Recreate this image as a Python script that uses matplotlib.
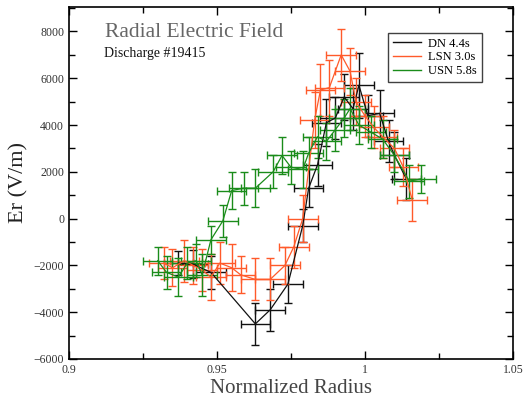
"""
Radial electric field profiles for discharge #19415 in three magnetic
configurations (DN, LSN, USN), plotted against normalized radius.
"""

import matplotlib
matplotlib.use("Agg")
import matplotlib.pyplot as plt
import matplotlib.ticker as ticker
from matplotlib.lines import Line2D


# ── profile data ──────────────────────────────────────────────────────────────

# DN 4.4s
x_dn = [0.937, 0.942, 0.948, 0.963, 0.968, 0.974, 0.979, 0.981, 0.984, 0.987,
        0.990, 0.993, 0.996, 0.998, 1.001, 1.005, 1.008, 1.010, 1.014]
y_dn = [-1900, -1950, -2300, -4500, -3900, -2800, -300, 1300, 2300, 4100,
        4300, 5200, 4700, 5700, 4400, 4500, 3300, 2700, 1700]
yerr_dn = [500, 600, 700, 900, 900, 800, 700, 800, 900, 1000,
           900, 1000, 900, 1400, 900, 1000, 900, 1000, 900]

# LSN 3.0s
x_lsn = [0.932, 0.935, 0.939, 0.942, 0.945, 0.948, 0.951, 0.955, 0.958, 0.963,
         0.968, 0.973, 0.976, 0.979, 0.983, 0.985, 0.988, 0.992, 0.995, 0.997,
         1.000, 1.003, 1.006, 1.010, 1.013, 1.016]
y_lsn = [-1900, -2100, -1800, -2000, -2200, -2500, -1900, -2100, -2400, -2600,
         -2600, -2000, -1200, 0, 4200, 5500, 5600, 7000, 6300, 5000,
         4400, 3900, 3500, 3000, 2200, 800]
yerr_lsn = [700, 800, 900, 800, 900, 1000, 900, 1000, 800, 900,
            900, 800, 900, 1000, 1200, 1100, 1200, 1100, 1000, 1000,
            900, 900, 900, 800, 800, 900]

# USN 5.8s
x_usn = [0.930, 0.933, 0.937, 0.940, 0.943, 0.945, 0.948, 0.952, 0.955, 0.959,
         0.963, 0.969, 0.972, 0.975, 0.979, 0.981, 0.984, 0.987, 0.990, 0.993,
         0.995, 0.998, 1.002, 1.006, 1.010, 1.015, 1.019]
y_usn = [-1800, -2300, -2500, -1900, -1800, -2400, -900, -100, 1200, 1300,
         1300, 2000, 2700, 2200, 2100, 2800, 3500, 3300, 3800, 4300,
         4700, 4000, 3700, 3400, 2700, 1600, 1700]
yerr_usn = [600, 700, 800, 700, 700, 900, 600, 700, 800, 700,
            800, 700, 800, 700, 800, 700, 900, 800, 900, 800,
            900, 800, 700, 800, 700, 700, 600]

XERR = 0.005

SERIES = [
    ("DN 4.4s", x_dn, y_dn, yerr_dn, "#111111"),
    ("LSN 3.0s", x_lsn, y_lsn, yerr_lsn, "#ff5a2a"),
    ("USN 5.8s", x_usn, y_usn, yerr_usn, "#1a8c1a"),
]

SERIF = ["Liberation Serif", "DejaVu Serif"]


# ── plotting ──────────────────────────────────────────────────────────────────

fig = plt.figure(figsize=(5.26, 4.07), dpi=100)
ax = fig.add_axes([0.131, 0.118, 0.844, 0.865])

handles = []
for label, xs, ys, yerr, color in SERIES:
    ax.errorbar(xs, ys, xerr=XERR, yerr=yerr, color=color, linewidth=0.9,
                elinewidth=1.0, capsize=3, capthick=1.0)
    handles.append(Line2D([], [], color=color, linewidth=1.0, label=label))

ax.set_xlim(0.9, 1.05)
ax.set_ylim(-6000, 9050)
ax.xaxis.set_major_locator(ticker.MultipleLocator(0.05))
ax.xaxis.set_minor_locator(ticker.MultipleLocator(0.025))
ax.yaxis.set_major_locator(ticker.MultipleLocator(2000))
ax.yaxis.set_minor_locator(ticker.MultipleLocator(1000))
ax.xaxis.set_major_formatter(ticker.FuncFormatter(lambda v, _p: f"{v:g}"))

ax.tick_params(which="both", direction="in", top=True, right=True,
               labelsize=8.5, width=1.0)
ax.tick_params(which="major", length=6)
ax.tick_params(which="minor", length=4)
for lab in ax.get_xticklabels() + ax.get_yticklabels():
    lab.set_family(SERIF)
    lab.set_color("#333333")
for spine in ax.spines.values():
    spine.set_linewidth(1.2)

ax.set_xlabel("Normalized Radius", fontsize=15, family=SERIF, color="#444444",
              labelpad=2)
ax.set_ylabel("Er (V/m)", fontsize=16, family=SERIF, color="#222222",
              labelpad=4)

ax.text(0.281, 0.926, "Radial Electric Field", transform=ax.transAxes,
        ha="center", va="center", fontsize=15.5, family=SERIF, color="#666666")
ax.text(0.079, 0.869, "Discharge #19415", transform=ax.transAxes,
        ha="left", va="center", fontsize=10, family=SERIF, color="#111111")

leg = ax.legend(handles=handles, loc="upper right",
                bbox_to_anchor=(0.93, 0.927),
                prop={"family": SERIF, "size": 9}, frameon=True, fancybox=False,
                handlelength=2.2, handletextpad=0.6, labelspacing=0.15,
                borderpad=0.4, borderaxespad=0.0)
leg.get_frame().set_edgecolor("#111111")
leg.get_frame().set_linewidth(1.0)

fig.savefig("out.png", dpi=100)
